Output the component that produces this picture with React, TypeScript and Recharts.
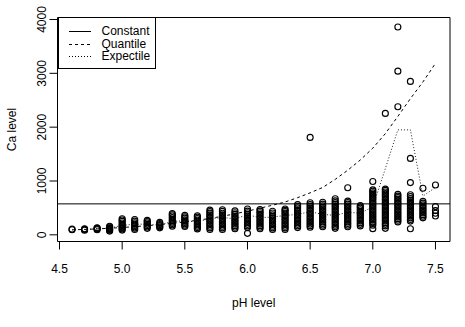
import React from 'react';
import {
  ComposedChart,
  Scatter,
  Line,
  XAxis,
  YAxis,
  ReferenceLine,
  ReferenceArea,
  Legend,
} from 'recharts';

const phLevels = [
  4.6, 4.7, 4.8, 4.9, 5.0, 5.1, 5.2, 5.3, 5.4, 5.5, 5.6, 5.7, 5.8, 5.9, 6.0,
  6.1, 6.2, 6.3, 6.4, 6.5, 6.6, 6.7, 6.8, 6.9, 7.0, 7.1, 7.2, 7.3, 7.4, 7.5,
];

// observed Ca values, one list per pH level (same order as phLevels)
const caObserved: number[][] = [
  [95, 105],
  [85, 100, 112],
  [95, 108, 120, 132],
  [70, 85, 100, 115, 130, 145, 160],
  [88, 110, 130, 150, 170, 195, 220, 250, 275, 298],
  [100, 125, 150, 175, 200, 225, 255, 285],
  [120, 145, 170, 195, 220, 245, 268],
  [130, 150, 170, 190, 210, 230],
  [160, 185, 210, 235, 260, 290, 320, 350, 372, 395],
  [155, 180, 205, 230, 255, 280, 310, 335, 362],
  [110, 135, 160, 185, 210, 240, 270, 300, 330, 355],
  [100, 130, 160, 190, 220, 250, 280, 310, 340, 370, 400, 430, 460],
  [100, 130, 160, 190, 220, 250, 280, 310, 340, 370, 400, 435, 465],
  [112, 140, 170, 200, 230, 260, 290, 320, 350, 380, 410, 445],
  [27, 135, 165, 195, 225, 255, 285, 315, 345, 375, 410, 440, 480],
  [112, 140, 170, 200, 230, 260, 290, 320, 350, 380, 410, 440, 468],
  [100, 130, 160, 190, 220, 250, 280, 310, 340, 370, 405, 437],
  [100, 130, 160, 190, 220, 250, 280, 310, 340, 370, 400, 430, 455, 480],
  [135, 165, 195, 225, 255, 285, 315, 345, 375, 405, 435, 465, 500, 530, 560],
  [140, 170, 200, 230, 260, 290, 320, 350, 380, 410, 440, 470, 500, 530, 560, 595, 1810],
  [150, 180, 210, 240, 270, 300, 330, 360, 390, 420, 450, 480, 510, 540, 570, 605],
  [120, 150, 180, 210, 240, 270, 300, 330, 360, 390, 420, 450, 480, 510, 540, 570, 600, 630, 670],
  [150, 180, 210, 240, 270, 300, 330, 360, 390, 420, 450, 480, 510, 540, 570, 600, 625, 875],
  [165, 195, 225, 255, 285, 315, 345, 375, 405, 435, 465, 495, 520, 545],
  [115, 180, 210, 240, 270, 300, 330, 360, 390, 420, 450, 480, 510, 540, 570, 600, 630, 660, 690, 720, 750, 780, 810, 835, 990],
  [120, 165, 195, 225, 255, 285, 315, 345, 375, 405, 435, 465, 495, 525, 555, 585, 615, 645, 675, 705, 735, 765, 795, 825, 850, 2255],
  [240, 270, 300, 330, 360, 390, 420, 450, 480, 510, 540, 570, 600, 630, 660, 690, 720, 750, 2380, 3040, 3860],
  [113, 255, 285, 315, 345, 375, 405, 435, 465, 495, 525, 555, 585, 615, 645, 675, 710, 745, 970, 1420, 2850],
  [315, 345, 375, 405, 435, 465, 495, 525, 555, 590, 620, 865],
  [350, 400, 450, 525, 925],
];

const quantileFit = [
  93, 100, 110, 122, 136, 152, 170, 190, 213, 240, 270, 305, 345, 390, 440,
  495, 550, 610, 690, 780, 880, 1030, 1200, 1390, 1610, 1880, 2200, 2530, 2840, 3185,
];

const expectileFit = [
  95, 100, 115, 125, 175, 200, 195, 180, 250, 260, 240, 300, 320, 300, 370,
  320, 330, 360, 380, 430, 380, 360, 420, 400, 520, 1230, 1950, 1950, 720, 880,
];

const constantFit = 575;

const xTicks = [4.5, 5.0, 5.5, 6.0, 6.5, 7.0, 7.5];
const yTicks = [0, 1000, 2000, 3000, 4000];

const legendItems = [
  { name: 'Constant', dash: undefined },
  { name: 'Quantile', dash: '3 3' },
  { name: 'Expectile', dash: '1 2' },
];

const FONT = '"Liberation Sans", Arial, Helvetica, sans-serif';

const fitRows = phLevels.map((ph, i) => ({
  ph,
  quantile: quantileFit[i],
  expectile: expectileFit[i],
}));

const caPoints = phLevels.flatMap((ph, i) => caObserved[i].map((ca) => ({ ph, ca })));

const Ring = (props: any) => {
  const { cx, cy } = props;
  if (cx == null || cy == null) return null;
  return <circle cx={cx} cy={cy} r={3} fill="none" stroke="#000" strokeWidth={1.15} />;
};

const YTick = (props: any) => {
  const { x, y, payload } = props;
  return (
    <text
      x={x}
      y={y}
      transform={`rotate(-90 ${x} ${y})`}
      textAnchor="middle"
      fontSize={12}
      fontFamily={FONT}
      fill="#000"
    >
      {payload.value}
    </text>
  );
};

const YTitle = (props: any) => {
  const vb = props.viewBox || { x: 0, y: 0, width: 0, height: 0 };
  const cx = vb.x + 16;
  const cy = vb.y + vb.height / 2;
  return (
    <text
      x={cx}
      y={cy}
      transform={`rotate(-90 ${cx} ${cy})`}
      textAnchor="middle"
      fontSize={12}
      fontFamily={FONT}
      fill="#000"
    >
      Ca level
    </text>
  );
};

const LegendBox = () => (
  <div
    style={{
      width: 98,
      height: 52,
      border: '1px solid #000',
      boxSizing: 'border-box',
      background: '#fff',
      position: 'relative',
      fontFamily: FONT,
      fontSize: 12,
      color: '#000',
    }}
  >
    {legendItems.map((item, i) => (
      <div
        key={item.name}
        style={{ position: 'absolute', left: 10, top: 7 + i * 12.5, height: 12, lineHeight: '12px', whiteSpace: 'nowrap' }}
      >
        <svg width={23} height={12} style={{ verticalAlign: 'top' }}>
          <line x1={0} x2={22} y1={6.5} y2={6.5} stroke="#000" strokeDasharray={item.dash} />
        </svg>
        <span style={{ marginLeft: 10 }}>{item.name}</span>
      </div>
    ))}
  </div>
);

export default function App() {
  return (
    <div style={{ position: 'absolute', left: 0, top: 0, width: 465, height: 327, background: '#fff' }}>
      <ComposedChart
        width={465}
        height={327}
        data={fitRows}
        margin={{ top: 17.5, right: 15, bottom: 0, left: 0 }}
      >
        <XAxis
          type="number"
          dataKey="ph"
          domain={[4.484, 7.616]}
          allowDataOverflow
          ticks={xTicks}
          tickFormatter={(v: number) => v.toFixed(1)}
          height={85.5}
          tickSize={8}
          tickMargin={15}
          axisLine={false}
          tickLine={{ stroke: '#000' }}
          tick={{ fill: '#000', fontSize: 12, fontFamily: FONT }}
          label={{ value: 'pH level', position: 'insideBottom', offset: 20, fill: '#000', fontSize: 12, fontFamily: FONT }}
        />
        <YAxis
          type="number"
          domain={[-124, 4037]}
          allowDataOverflow
          ticks={yTicks}
          width={57.5}
          tickSize={8}
          tickMargin={3}
          axisLine={false}
          tickLine={{ stroke: '#000' }}
          tick={<YTick />}
          label={<YTitle />}
        />
        <ReferenceArea
          x1={4.484}
          x2={7.616}
          y1={-124}
          y2={4037}
          fill="none"
          fillOpacity={0}
          stroke="#000"
          strokeWidth={1}
          ifOverflow="visible"
        />
        <ReferenceLine y={constantFit} stroke="#000" strokeWidth={1} />
        <Scatter data={caPoints} dataKey="ca" shape={Ring} isAnimationActive={false} />
        <Line
          dataKey="quantile"
          stroke="#000"
          strokeWidth={1}
          strokeDasharray="3 3"
          dot={false}
          activeDot={false}
          isAnimationActive={false}
        />
        <Line
          dataKey="expectile"
          stroke="#222"
          strokeWidth={1}
          strokeDasharray="1 2"
          dot={false}
          activeDot={false}
          isAnimationActive={false}
        />
        <Legend
          layout="vertical"
          align="center"
          verticalAlign="middle"
          content={<LegendBox />}
          wrapperStyle={{ left: 57.5, top: 17, width: 98, height: 52 }}
        />
      </ComposedChart>
    </div>
  );
}
